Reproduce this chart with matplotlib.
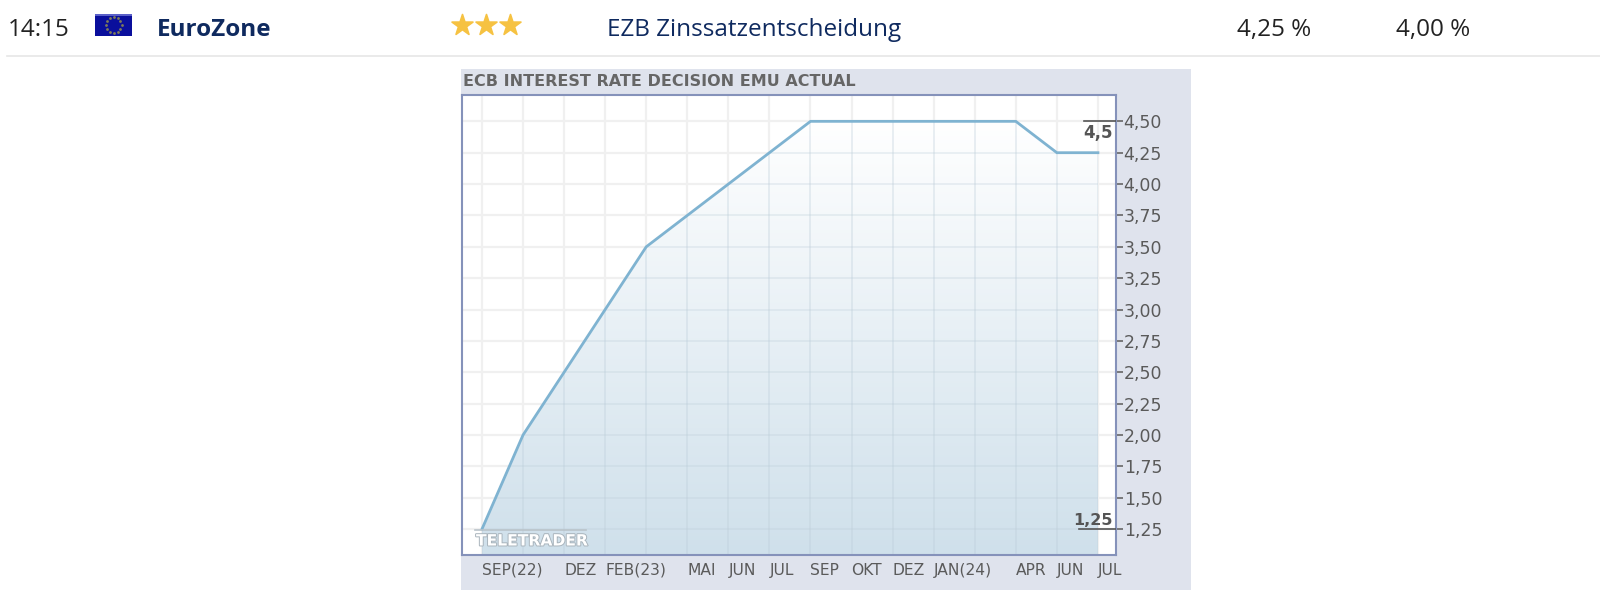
import numpy as np
import matplotlib
matplotlib.use("Agg")
import matplotlib.pyplot as plt
from matplotlib.patches import Rectangle
from matplotlib.colors import LinearSegmentedColormap
import matplotlib.patheffects as pe

# ---- data ----
month_labels = ["SEP(22)", "", "DEZ", "FEB(23)", "", "MAI", "JUN", "JUL", "SEP",
                "OKT", "DEZ", "JAN(24)", "", "APR", "JUN", "JUL"]
rate_values = [1.25, 2.00, 2.50, 3.00, 3.50, 3.75, 4.00, 4.25, 4.50,
               4.50, 4.50, 4.50, 4.50, 4.50, 4.25, 4.25]
y_ticks = [1.25, 1.50, 1.75, 2.00, 2.25, 2.50, 2.75, 3.00, 3.25, 3.50, 3.75, 4.00, 4.25, 4.50]
chart_title = "ECB INTEREST RATE DECISION EMU ACTUAL"
row_time = "14:15"
row_region = "EuroZone"
row_event = "EZB Zinssatzentscheidung"
row_previous = "4,25 %"
row_forecast = "4,00 %"
row_stars = 3

W, H = 1600, 602
fig = plt.figure(figsize=(W / 100, H / 100), dpi=100, facecolor="white")

# page-level overlay in pixel coordinates
bg = fig.add_axes([0, 0, 1, 1], zorder=0)
bg.set_xlim(0, W); bg.set_ylim(H, 0); bg.axis("off")

HF = "Open Sans"
FS = 17.5
bg.text(8, 36, row_time, family=HF, fontsize=FS, color="#222222", va="baseline")
bg.text(157, 36, row_region, family=HF, fontsize=FS, weight="bold", color="#0f2a5f", va="baseline")
bg.text(607, 36, row_event, family=HF, fontsize=FS, color="#0f2a5f", va="baseline")
bg.text(1237, 36, row_previous, family=HF, fontsize=FS, color="#222222", va="baseline")
bg.text(1396, 36, row_forecast, family=HF, fontsize=FS, color="#222222", va="baseline")
bg.plot([7, 1600], [56, 56], color="#e6e6e6", lw=1.2)

# flag
bg.add_patch(Rectangle((95, 14), 37, 22, facecolor="#0a0f9c", edgecolor="none"))
bg.add_patch(Rectangle((95, 14), 37, 2, facecolor="#5a60c8", edgecolor="none"))
ang = np.arange(12) * np.pi / 6
bg.scatter(113.5 + 8 * np.cos(ang), 25 + 8 * np.sin(ang), s=4, marker="o", color="#7f7c5a", lw=0)

# rating stars
bg.scatter(462 + 24 * np.arange(row_stars), [25] * row_stars, s=250, marker="*",
           color="#f6c242", edgecolor="#f6c242", lw=1.2)

# grey panel
bg.add_patch(Rectangle((461, 69), 730, 521, facecolor="#dfe3ed", edgecolor="none"))
bg.text(463, 81.5, chart_title, family="DejaVu Sans", weight="bold", fontsize=11.5,
        color="#666666", va="center", ha="left")

# plot axes
L, R, T, B = 462, 1116, 95, 555
XLIM = (-0.487, 15.44)
YLIM = (1.043, 4.71)
ax = fig.add_axes([L / W, 1 - B / H, (R - L) / W, (B - T) / H], zorder=1, facecolor="white")
x = np.arange(len(rate_values))

ax.set_axisbelow(True)
ax.set_xticks(x)
ax.set_yticks(y_ticks)
ax.grid(True, color="#f0f0f0", lw=1.6, zorder=0.5)
for s in ("top", "left", "right", "bottom"):
    ax.spines[s].set_color("#8592ba")
    ax.spines[s].set_linewidth(1.5)

# gradient area
cmap = LinearSegmentedColormap.from_list("g", ["#ffffff", "#cfe0eb"])
grad = np.linspace(0, 1, 256).reshape(-1, 1)
area = ax.fill_between(x, YLIM[0], rate_values, color="none", lw=0)
area_path = area.get_paths()[0]
im = ax.imshow(grad, extent=[x[0], x[-1], YLIM[0], max(rate_values)], origin="upper",
               cmap=cmap, aspect="auto", zorder=1.5)
im.set_clip_path(area_path, transform=ax.transData)

# grid tinted through the fill
for xi in x:
    ax.axvline(xi, color="#bccdd9", lw=1.3, alpha=0.35, zorder=1.6).set_clip_path(area_path, transform=ax.transData)
for yi in y_ticks:
    ax.axhline(yi, color="#bccdd9", lw=1.3, alpha=0.3, zorder=1.6).set_clip_path(area_path, transform=ax.transData)

ax.plot(x, rate_values, color="#7fb3d1", lw=2.0, zorder=3, solid_joinstyle="miter")

# ticks
ax.yaxis.tick_right()
ax.set_yticklabels([f"{v:.2f}".replace(".", ",") for v in y_ticks], family="DejaVu Sans")
ax.tick_params(axis="y", length=5, width=1.2, color="#666666", pad=0.5, labelsize=12.5, labelcolor="#5a5a5a")
ax.set_xticklabels(month_labels, ha="left", fontsize=11.2, color="#5a5a5a", family="DejaVu Sans")
ax.tick_params(axis="x", length=0, pad=5.5)

# max / min markers
hi, lo = max(rate_values), min(rate_values)
ax.plot([14.67, XLIM[1]], [hi, hi], color="#555555", lw=1.2, zorder=4)
ax.plot([14.53, XLIM[1]], [lo, lo], color="#555555", lw=1.2, zorder=4)
ax.text(15.36, hi - 0.135, f"{hi:g}".replace(".", ","), ha="right", va="baseline", fontsize=12,
        weight="bold", color="#555555", zorder=5)
ax.text(15.36, lo + 0.03, f"{lo:g}".replace(".", ","), ha="right", va="baseline", fontsize=11.5,
        weight="bold", color="#555555", zorder=5)
ax.set_xlim(*XLIM)
ax.set_ylim(*YLIM)

# watermark
bg2 = fig.add_axes([0, 0, 1, 1], zorder=3)
bg2.set_xlim(0, W); bg2.set_ylim(H, 0); bg2.axis("off")
bg2.plot([475, 586], [530, 530], color="#b9c3ca", lw=1.2)
bg2.text(476, 541, "TELETRADER", family="DejaVu Sans", weight="bold", fontsize=11.2, color="white",
         va="center", ha="left", path_effects=[pe.withStroke(linewidth=1.4, foreground="#a9b4bc")])

fig.savefig("out.png", dpi=100, facecolor="white")
